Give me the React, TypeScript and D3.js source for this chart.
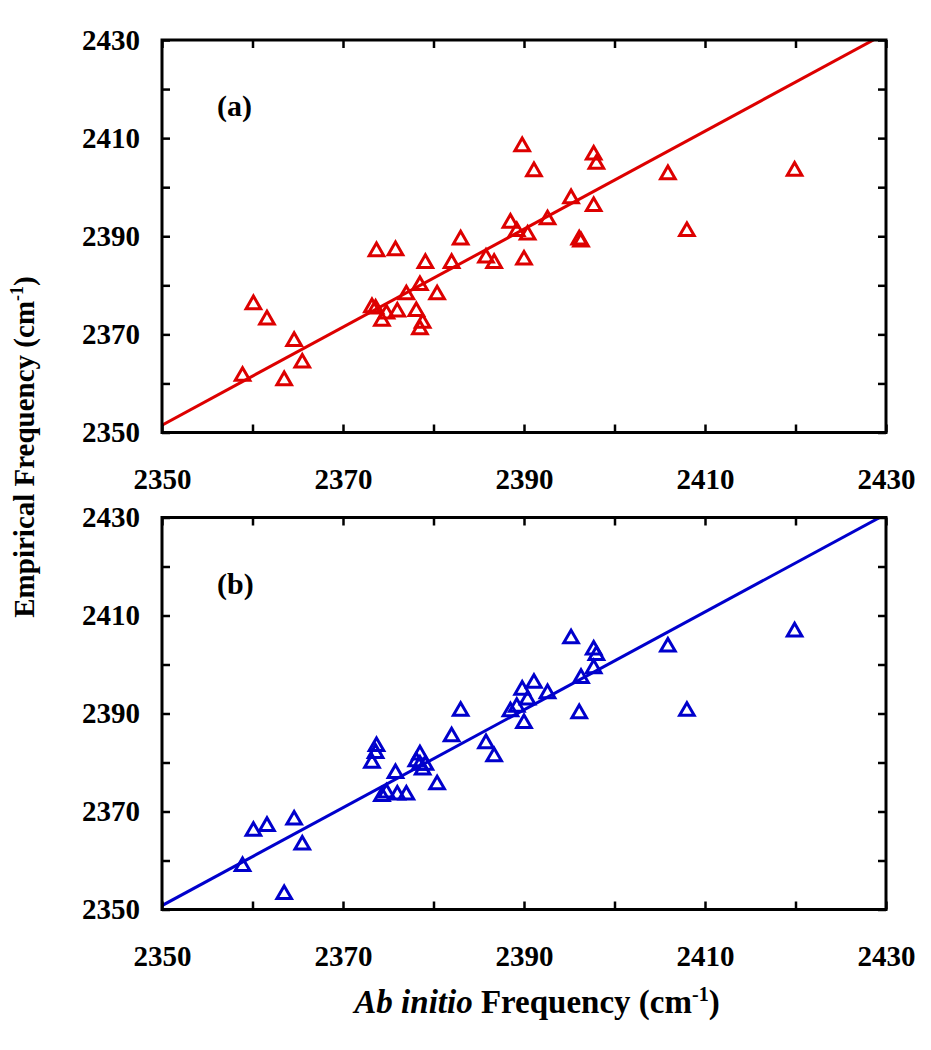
import { useEffect, useRef } from "react";
import * as d3 from "d3";

// ab initio frequencies (cm-1), shared by both panels
const abInitio = [
  2358.9, 2360.1, 2361.6, 2364.6, 2363.5, 2365.5, 2373.7, 2375.8, 2373.2, 2373.6,
  2374.3, 2374.8, 2376.0, 2377.0, 2378.1, 2378.5, 2378.8, 2378.5, 2379.1, 2380.4,
  2382.0, 2383.0, 2385.8, 2386.7, 2388.5, 2389.2, 2390.4, 2390.0, 2389.8, 2391.1,
  2392.6, 2395.2, 2396.1, 2396.3, 2397.7, 2398.0, 2397.7, 2405.9, 2408.0, 2419.9,
];

// empirical frequencies, panel (a)
const empiricalA = [
  2361.8, 2376.4, 2373.3, 2368.9, 2360.9, 2364.5, 2387.2, 2387.4, 2375.8, 2375.5,
  2373.0, 2374.5, 2374.9, 2378.4, 2375.0, 2380.3, 2372.6, 2371.3, 2384.8, 2378.4,
  2384.8, 2389.6, 2385.9, 2384.8, 2393.0, 2391.3, 2390.6, 2385.5, 2408.6, 2403.5,
  2393.7, 2398.0, 2389.6, 2389.2, 2406.9, 2405.0, 2396.4, 2402.9, 2391.3, 2403.6,
];

// empirical frequencies, panel (b)
const empiricalB = [
  2359.1, 2366.3, 2367.3, 2368.6, 2353.4, 2363.5, 2383.6, 2378.1, 2380.2, 2382.2,
  2373.4, 2374.1, 2373.7, 2373.7, 2380.5, 2381.9, 2378.8, 2379.8, 2379.8, 2375.8,
  2385.6, 2390.8, 2384.2, 2381.5, 2390.7, 2391.6, 2393.1, 2388.3, 2395.1, 2396.5,
  2394.4, 2405.6, 2390.3, 2397.5, 2403.3, 2402.2, 2399.5, 2403.9, 2390.8, 2407.0,
];

// fitted lines, endpoints [x, y]
const fitA: [number, number][] = [[2350, 2351.5], [2430, 2431.4]];
const fitB: [number, number][] = [[2350, 2350.8], [2430, 2430.7]];

const ticks = [2350, 2360, 2370, 2380, 2390, 2400, 2410, 2420, 2430];
const labelTicks = [2350, 2370, 2390, 2410, 2430];

const FONT = "'Liberation Serif', 'Times New Roman', serif";

export default function App() {
  const ref = useRef<SVGSVGElement>(null);

  useEffect(() => {
    if (!ref.current) return;
    const svg = d3.select(ref.current);
    svg.selectAll("*").remove();

    const left = 162;
    const right = 886;
    const panels = [
      { top: 40, bottom: 432.5, ys: empiricalA, fit: fitA, color: "#dd0000", tag: "(a)" },
      { top: 517.5, bottom: 909.5, ys: empiricalB, fit: fitB, color: "#0000cc", tag: "(b)" },
    ];

    panels.forEach((p, pi) => {
      const x = d3.scaleLinear().domain([2350, 2430]).range([left, right]);
      const y = d3.scaleLinear().domain([2350, 2430]).range([p.bottom, p.top]);
      const g = svg.append("g");

      const clipId = `clip-${pi}`;
      g.append("clipPath")
        .attr("id", clipId)
        .append("rect")
        .attr("x", left)
        .attr("y", p.top)
        .attr("width", right - left)
        .attr("height", p.bottom - p.top);

      // fitted line
      g.append("path")
        .datum(p.fit)
        .attr("clip-path", `url(#${clipId})`)
        .attr("fill", "none")
        .attr("stroke", p.color)
        .attr("stroke-width", 3)
        .attr(
          "d",
          d3
            .line<[number, number]>()
            .x((d) => x(d[0]))
            .y((d) => y(d[1]))
        );

      // triangles
      const tri = d3.symbol().type(d3.symbolTriangle).size(92);
      g.selectAll(".pt")
        .data(abInitio.map((v, i) => [v, p.ys[i]] as [number, number]))
        .join("path")
        .attr("class", "pt")
        .attr("transform", (d) => `translate(${x(d[0])},${y(d[1]) + 1.5})`)
        .attr("d", tri() as string)
        .attr("fill", "none")
        .attr("stroke", p.color)
        .attr("stroke-width", 3);

      const styleAxis = (sel: d3.Selection<SVGGElement, unknown, null, undefined>) => {
        sel.select(".domain").remove();
        sel.selectAll(".tick line").attr("stroke", "#000").attr("stroke-width", 2.5);
        sel.selectAll(".tick text")
          .attr("fill", "#000")
          .attr("font-family", FONT)
          .attr("font-weight", "bold")
          .attr("font-size", 29);
      };
      const fmt = (d: d3.NumberValue) => (labelTicks.includes(+d) ? String(d) : "");

      g.append("g")
        .attr("transform", `translate(${left},0)`)
        .call(d3.axisLeft(y).tickValues(ticks).tickSize(-8).tickPadding(22).tickFormat(fmt))
        .call(styleAxis);
      g.append("g")
        .attr("transform", `translate(${right},0)`)
        .call(d3.axisRight(y).tickValues(ticks).tickSize(-8).tickFormat(() => ""))
        .call(styleAxis);
      g.append("g")
        .attr("transform", `translate(0,${p.bottom})`)
        .call(d3.axisBottom(x).tickValues(ticks).tickSize(-8).tickPadding(36).tickFormat(fmt))
        .call(styleAxis);
      g.append("g")
        .attr("transform", `translate(0,${p.top})`)
        .call(d3.axisTop(x).tickValues(ticks).tickSize(-8).tickFormat(() => ""))
        .call(styleAxis);

      // frame
      g.append("rect")
        .attr("x", left)
        .attr("y", p.top)
        .attr("width", right - left)
        .attr("height", p.bottom - p.top)
        .attr("fill", "none")
        .attr("stroke", "#000")
        .attr("stroke-width", 3);

      g.append("text")
        .attr("x", 217)
        .attr("y", p.top + 76)
        .attr("font-family", FONT)
        .attr("font-weight", "bold")
        .attr("font-size", 30)
        .text(p.tag);
    });

    // y title
    const yt = svg
      .append("text")
      .attr("transform", "translate(34,447) rotate(-90)")
      .attr("text-anchor", "middle")
      .attr("font-family", FONT)
      .attr("font-weight", "bold")
      .attr("font-size", 29);
    yt.append("tspan").text("Empirical Frequency (cm");
    yt.append("tspan").attr("font-size", 18).attr("dy", -11).text("-1");
    yt.append("tspan").attr("dy", 11).text(")");

    // x title
    const xt = svg
      .append("text")
      .attr("x", 537)
      .attr("y", 1013)
      .attr("text-anchor", "middle")
      .attr("font-family", FONT)
      .attr("font-weight", "bold")
      .attr("font-size", 33);
    xt.append("tspan").attr("font-style", "italic").text("Ab initio");
    xt.append("tspan").text(" Frequency (cm");
    xt.append("tspan").attr("font-size", 20).attr("dy", -12).text("-1");
    xt.append("tspan").attr("dy", 12).text(")");
  }, []);

  return (
    <svg
      ref={ref}
      width={931}
      height={1050}
      style={{ position: "absolute", left: 0, top: 0, background: "#fff" }}
    />
  );
}
